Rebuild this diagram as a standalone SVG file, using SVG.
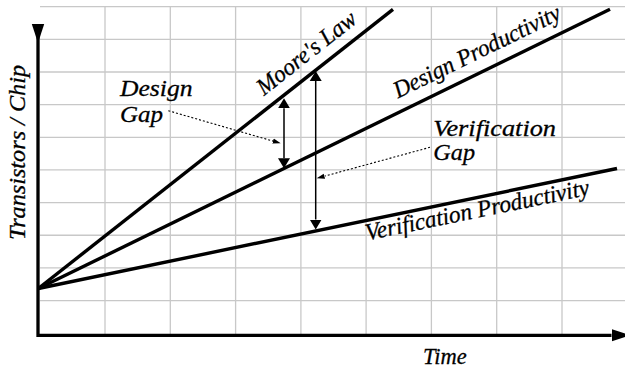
<svg xmlns="http://www.w3.org/2000/svg" width="625" height="368" viewBox="0 0 625 368">
  <style>
    .grid line { stroke: #c8c8c8; stroke-width: 1.3; }
    .axis { fill: none; stroke: #000; stroke-width: 3.3; stroke-linejoin: miter; }
    .trend { stroke: #000; stroke-width: 3.4; fill: none; }
    .gap { stroke: #000; stroke-width: 1.5; fill: none; }
    .leader { stroke: #000; stroke-width: 1.1; stroke-dasharray: 2 2; fill: none; }
    .lbl { font-family: 'Liberation Serif', 'Times New Roman', serif; font-style: italic; fill: #000; stroke: #000; stroke-width: 0.3; font-size: 24px; }
  </style>
  <defs>
    <marker id="axisHead" markerUnits="userSpaceOnUse" viewBox="0 -7 20 14" markerWidth="20" markerHeight="14" refX="0" refY="0" orient="auto">
      <path d="M0,-6.2 L19,0 L0,6.2 z" fill="#000"/>
    </marker>
    <marker id="gapHead" markerUnits="userSpaceOnUse" viewBox="0 -7 11 14" markerWidth="11" markerHeight="14" refX="0" refY="0" orient="auto-start-reverse">
      <path d="M0,-6 L10,0 L0,6 z" fill="#000"/>
    </marker>
    <marker id="leaderHead" markerUnits="userSpaceOnUse" viewBox="0 -4 9 8" markerWidth="9" markerHeight="8" refX="0" refY="0" orient="auto">
      <path d="M0,-2.6 L8,0 L0,2.6 z" fill="#000"/>
    </marker>
  </defs>

  <!-- background grid -->
  <g id="grid" class="grid">
    <line x1="40" y1="6.7" x2="625" y2="6.7"/>
    <line x1="40" y1="39.35" x2="625" y2="39.35"/>
    <line x1="40" y1="72" x2="625" y2="72"/>
    <line x1="40" y1="104.65" x2="625" y2="104.65"/>
    <line x1="40" y1="137.3" x2="625" y2="137.3"/>
    <line x1="40" y1="169.95" x2="625" y2="169.95"/>
    <line x1="40" y1="202.6" x2="625" y2="202.6"/>
    <line x1="40" y1="235.25" x2="625" y2="235.25"/>
    <line x1="40" y1="267.9" x2="625" y2="267.9"/>
    <line x1="40" y1="300.55" x2="625" y2="300.55"/>
    <line x1="105" y1="6.7" x2="105" y2="334"/>
    <line x1="170.3" y1="6.7" x2="170.3" y2="334"/>
    <line x1="235.6" y1="6.7" x2="235.6" y2="334"/>
    <line x1="300.9" y1="6.7" x2="300.9" y2="334"/>
    <line x1="366.1" y1="6.7" x2="366.1" y2="334"/>
    <line x1="431.4" y1="6.7" x2="431.4" y2="334"/>
    <line x1="496.7" y1="6.7" x2="496.7" y2="334"/>
    <line x1="562" y1="6.7" x2="562" y2="334"/>
  </g>

  <!-- axes -->
  <g id="axes">
    <polyline class="axis" points="38,24 38,335.3 611.5,335.3" marker-start="url(#axisHead)" marker-end="url(#axisHead)"/>
    <text class="lbl" x="423" y="364.3" font-size="22" textLength="43.7" lengthAdjust="spacingAndGlyphs">Time</text>
    <text class="lbl" transform="translate(24.5,240) rotate(-90)" font-size="24" textLength="175" lengthAdjust="spacingAndGlyphs">Transistors / Chip</text>
  </g>

  <!-- trend lines -->
  <g id="moores-law">
    <line class="trend" x1="38.3" y1="288.5" x2="393" y2="9.3"/>
    <text class="lbl" transform="translate(264,96) rotate(-38.2)" textLength="120" lengthAdjust="spacingAndGlyphs">Moore's Law</text>
  </g>
  <g id="design-productivity">
    <line class="trend" x1="38.3" y1="288.5" x2="610" y2="9.3"/>
    <text class="lbl" transform="translate(398,98.5) rotate(-26)" textLength="183" lengthAdjust="spacingAndGlyphs">Design Productivity</text>
  </g>
  <g id="verification-productivity">
    <line class="trend" x1="38.3" y1="288.5" x2="617" y2="168.5"/>
    <text class="lbl" transform="translate(367,240.5) rotate(-11.6)" textLength="228" lengthAdjust="spacingAndGlyphs">Verification Productivity</text>
  </g>

  <!-- gap labels -->
  <g id="design-gap">
    <text class="lbl" x="120" y="96" textLength="72.5" lengthAdjust="spacingAndGlyphs">Design</text>
    <text class="lbl" x="120" y="121.5" textLength="43" lengthAdjust="spacingAndGlyphs">Gap</text>
  </g>
  <g id="verification-gap">
    <text class="lbl" x="433.3" y="135.5" textLength="122.7" lengthAdjust="spacingAndGlyphs">Verification</text>
    <text class="lbl" x="433.3" y="160" textLength="41.7" lengthAdjust="spacingAndGlyphs">Gap</text>
  </g>

  <!-- connectors: gap spans and dotted leaders -->
  <g id="connectors">
    <line class="gap" x1="284" y1="108.3" x2="284" y2="158.3" marker-start="url(#gapHead)" marker-end="url(#gapHead)"/>
    <line class="gap" x1="315.7" y1="81" x2="315.7" y2="219.5" marker-start="url(#gapHead)" marker-end="url(#gapHead)"/>
    <line class="leader" x1="168.3" y1="110.7" x2="273" y2="141.1" marker-end="url(#leaderHead)"/>
    <line class="leader" x1="430" y1="147.3" x2="324.4" y2="176.2" marker-end="url(#leaderHead)"/>
  </g>
</svg>
